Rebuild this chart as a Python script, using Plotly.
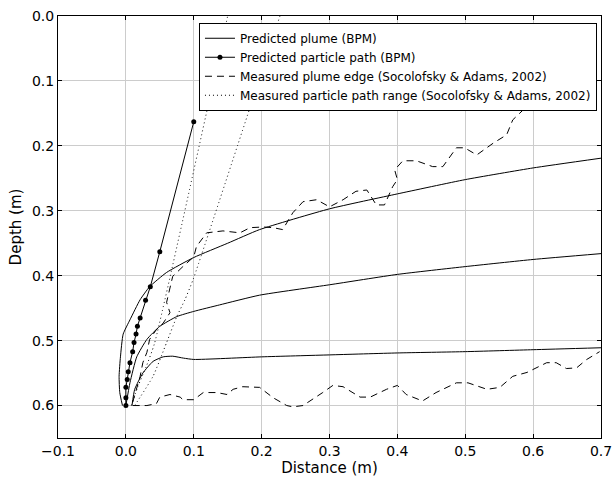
import plotly.graph_objects as go

# Predicted plume (BPM): three curves
plume_top_x = [-0.005, -0.009, -0.010, -0.008, -0.004, 0.006, 0.021, 0.035, 0.06, 0.1, 0.15, 0.197, 0.3, 0.4, 0.5, 0.6, 0.7]
plume_top_y = [0.6, 0.58, 0.555, 0.525, 0.49, 0.468, 0.437, 0.417, 0.395, 0.372, 0.35, 0.329, 0.297, 0.274, 0.252, 0.234, 0.219]
plume_mid_x = [0.0, 0.006, 0.016, 0.031, 0.05, 0.075, 0.1, 0.138, 0.197, 0.3, 0.4, 0.5, 0.6, 0.7]
plume_mid_y = [0.6, 0.565, 0.525, 0.498, 0.478, 0.463, 0.455, 0.445, 0.43, 0.414, 0.398, 0.386, 0.375, 0.366]
plume_low_x = [0.009, 0.013, 0.025, 0.04, 0.055, 0.069, 0.085, 0.1, 0.2, 0.3, 0.4, 0.5, 0.6, 0.7]
plume_low_y = [0.6, 0.575, 0.55, 0.532, 0.525, 0.524, 0.527, 0.529, 0.525, 0.522, 0.519, 0.517, 0.514, 0.511]

# Predicted particle path (BPM)
path_x = [0.0, 0.0, 0.0, 0.002, 0.0035, 0.006, 0.01, 0.012, 0.015, 0.017, 0.021, 0.029, 0.036, 0.05, 0.1]
path_y = [0.6, 0.588, 0.572, 0.56, 0.548, 0.534, 0.517, 0.503, 0.49, 0.478, 0.465, 0.438, 0.417, 0.363, 0.163]

# Measured plume edge (Socolofsky & Adams, 2002)
edge_up_x = [0.01, 0.016, 0.021, 0.025, 0.031, 0.035, 0.045, 0.055, 0.065, 0.06, 0.065, 0.069, 0.084, 0.1, 0.104, 0.119,
             0.143, 0.168, 0.183, 0.202, 0.217, 0.231, 0.246, 0.261, 0.281, 0.3, 0.32, 0.339, 0.355, 0.369, 0.381,
             0.393, 0.4, 0.396, 0.408, 0.428, 0.452, 0.467, 0.487, 0.499, 0.517, 0.541, 0.561, 0.57, 0.585, 0.605,
             0.639, 0.668, 0.698]
edge_up_y = [0.595, 0.575, 0.555, 0.534, 0.518, 0.498, 0.483, 0.473, 0.457, 0.441, 0.421, 0.401, 0.386, 0.371, 0.355, 0.334,
             0.331, 0.334, 0.326, 0.325, 0.326, 0.329, 0.303, 0.286, 0.283, 0.294, 0.283, 0.27, 0.268, 0.291, 0.291,
             0.263, 0.252, 0.237, 0.223, 0.223, 0.232, 0.232, 0.203, 0.203, 0.214, 0.196, 0.183, 0.16, 0.145, 0.14,
             0.14, 0.129, 0.134]
edge_low_x = [0.01, 0.031, 0.045, 0.05, 0.065, 0.08, 0.084, 0.1, 0.114, 0.134, 0.149, 0.158, 0.172, 0.197, 0.217, 0.237,
              0.246, 0.261, 0.29, 0.305, 0.32, 0.345, 0.36, 0.384, 0.4, 0.413, 0.437, 0.457, 0.487, 0.504, 0.532,
              0.551, 0.57, 0.591, 0.62, 0.634, 0.649, 0.664, 0.679, 0.698]
edge_low_y = [0.6, 0.6, 0.597, 0.587, 0.583, 0.587, 0.591, 0.591, 0.58, 0.58, 0.583, 0.575, 0.571, 0.572, 0.588, 0.6,
              0.602, 0.6, 0.58, 0.569, 0.571, 0.587, 0.587, 0.575, 0.569, 0.583, 0.593, 0.58, 0.565, 0.565, 0.575,
              0.572, 0.555, 0.549, 0.534, 0.534, 0.543, 0.542, 0.529, 0.517]

# Measured particle path range (Socolofsky & Adams, 2002)
range_left_x = [0.008, 0.018, 0.03, 0.042, 0.15]
range_left_y = [0.6, 0.57, 0.54, 0.505, 0.0]
range_right_x = [0.013, 0.04, 0.06, 0.075, 0.087, 0.099, 0.227]
range_right_y = [0.6, 0.555, 0.503, 0.463, 0.437, 0.406, 0.0]

x_ticks = [-0.1, 0.0, 0.1, 0.2, 0.3, 0.4, 0.5, 0.6, 0.7]
y_ticks = [0.0, 0.1, 0.2, 0.3, 0.4, 0.5, 0.6]

FONT = "DejaVu Sans"
fig = go.Figure()

for i, (xs, ys) in enumerate([(plume_top_x, plume_top_y), (plume_mid_x, plume_mid_y), (plume_low_x, plume_low_y)]):
    fig.add_trace(go.Scatter(x=xs, y=ys, mode="lines", line=dict(color="black", width=1, shape="spline", smoothing=0.5),
                             name="Predicted plume (BPM)", legendgroup="plume", showlegend=(i == 0)))

fig.add_trace(go.Scatter(x=path_x, y=path_y, mode="lines+markers", line=dict(color="black", width=1),
                         marker=dict(color="black", size=5), name="Predicted particle path (BPM)"))

for i, (xs, ys) in enumerate([(edge_up_x, edge_up_y), (edge_low_x, edge_low_y)]):
    fig.add_trace(go.Scatter(x=xs, y=ys, mode="lines", line=dict(color="black", width=1, dash="7px,5px"),
                             name="Measured plume edge (Socolofsky & Adams, 2002)", legendgroup="edge",
                             showlegend=(i == 0)))

for i, (xs, ys) in enumerate([(range_left_x, range_left_y), (range_right_x, range_right_y)]):
    fig.add_trace(go.Scatter(x=xs, y=ys, mode="lines",
                             line=dict(color="black", width=1, dash="1px,3px", shape="spline", smoothing=0.5),
                             name="Measured particle path range (Socolofsky & Adams, 2002)", legendgroup="range",
                             showlegend=(i == 0)))

axis_common = dict(showline=True, linecolor="black", linewidth=1, mirror="ticks", ticks="inside", ticklen=4,
                   tickcolor="black", showgrid=True, gridcolor="#cccccc", gridwidth=1, zeroline=False,
                   tickfont=dict(family=FONT, size=14, color="black"), tickformat=".1f", automargin=False)

fig.update_layout(
    width=614, height=479,
    margin=dict(l=58, r=13, t=16, b=41),
    paper_bgcolor="white", plot_bgcolor="white",
    font=dict(family=FONT, color="black"),
    xaxis=dict(range=[-0.1, 0.7], tickvals=x_ticks,
               title=dict(text="Distance (m)", font=dict(family=FONT, size=15), standoff=4), **axis_common),
    yaxis=dict(range=[0.65, 0.0], tickvals=y_ticks,
               title=dict(text="Depth (m)", font=dict(family=FONT, size=15), standoff=6), **axis_common),
    legend=dict(x=0.9926, y=0.984, xanchor="right", yanchor="top", bgcolor="white", bordercolor="black",
                borderwidth=1, font=dict(family=FONT, size=12, color="black"), tracegroupgap=0, itemwidth=30),
    showlegend=True,
)

fig.write_html("out.html")
